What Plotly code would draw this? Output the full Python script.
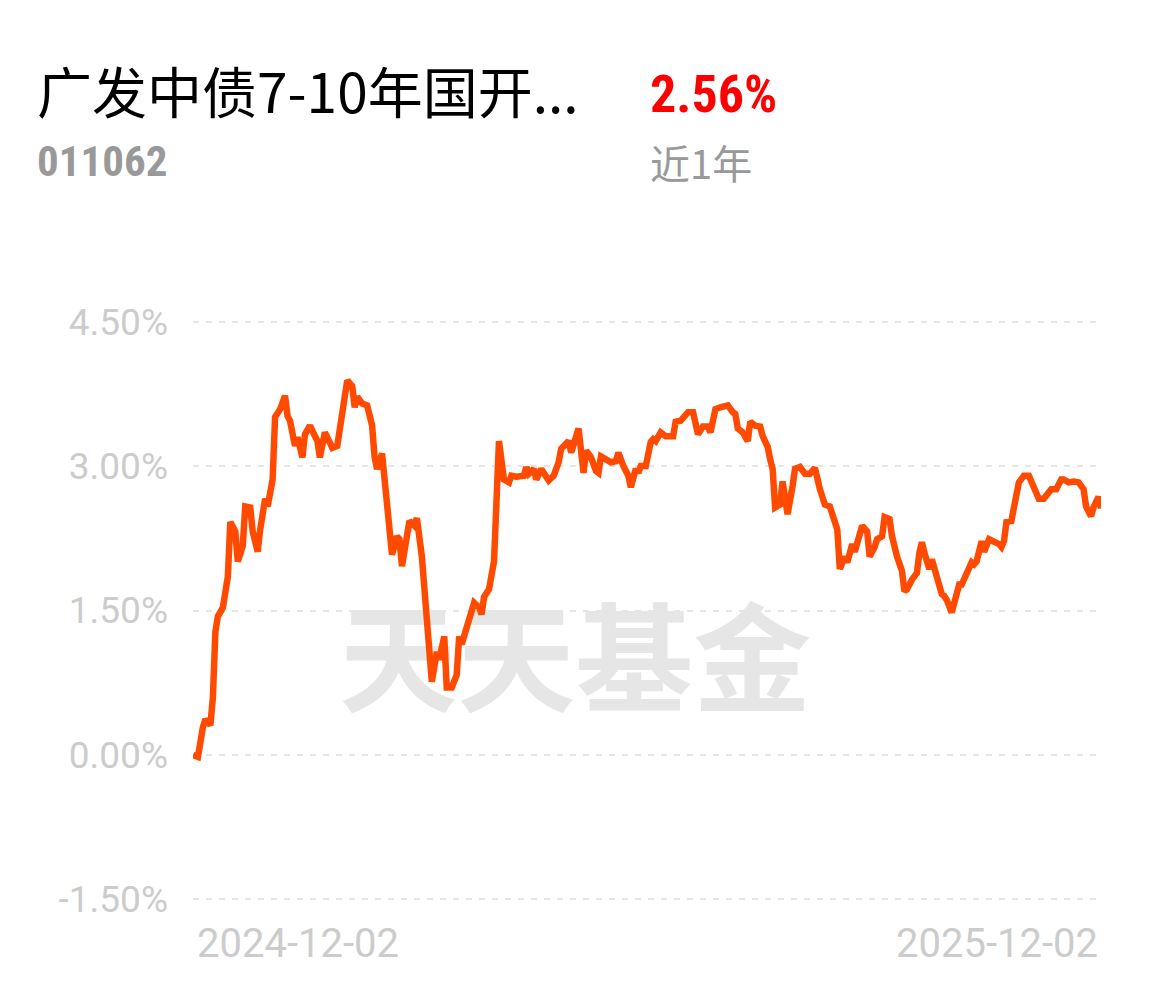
import pandas as pd
import plotly.graph_objects as go

# ---- data ----
start_date = "2024-12-02"
day_offsets = [0,2,4,5,7,8,9,10,12,14,15,17,18,20,21,23,24,26,27,29,30,32,33,35,37,38,39,41,42,44,45,47,50,51,53,54,56,58,60,62,64,65,66,68,70,72,73,74,76,77,79,80,82,83,84,86,87,89,90,92,93,94,96,98,99,101,102,104,106,107,108,110,113,115,116,117,119,121,122,123,125,127,128,130,133,134,135,137,138,140,142,143,145,147,148,150,151,152,154,155,157,158,160,162,163,164,166,168,170,171,173,175,176,178,179,180,182,184,185,186,188,190,193,194,196,198,199,201,202,203,205,207,208,210,212,215,217,218,219,221,223,224,226,228,229,231,232,233,234,236,237,239,241,242,244,246,248,250,252,254,256,258,259,260,262,263,265,266,268,269,271,272,274,275,277,278,280,281,283,285,286,287,289,291,292,293,294,296,297,299,301,302,303,305,307,308,309,311,313,314,315,317,318,320,322,324,325,326,327,329,330,332,334,336,338,340,342,344,345,347,349,350,352,354,356,358,359,361,362,364,365]
returns_pct = [0.00,-0.02,0.29,0.37,0.31,0.60,1.28,1.44,1.53,1.85,2.42,2.32,2.01,2.17,2.58,2.57,2.32,2.11,2.34,2.66,2.58,2.86,3.51,3.59,3.73,3.52,3.47,3.21,3.30,3.09,3.33,3.42,3.26,3.09,3.35,3.30,3.19,3.21,3.56,3.89,3.83,3.61,3.72,3.65,3.63,3.42,3.09,2.97,3.13,2.83,2.42,2.08,2.27,2.24,1.96,2.22,2.43,2.38,2.46,2.06,1.61,1.41,0.76,1.07,0.99,1.23,0.70,0.70,0.83,1.23,1.15,1.32,1.58,1.53,1.46,1.64,1.72,2.01,2.66,3.26,2.86,2.83,2.90,2.89,2.90,2.99,2.92,2.97,2.86,2.97,2.89,2.85,2.90,3.04,3.18,3.25,3.26,3.14,3.33,3.39,2.93,3.16,3.09,2.95,2.93,3.10,3.07,3.04,3.05,3.14,3.00,2.90,2.78,2.97,2.93,3.00,3.00,3.25,3.28,3.26,3.35,3.31,3.31,3.46,3.47,3.52,3.56,3.56,3.44,3.33,3.41,3.41,3.35,3.59,3.61,3.63,3.56,3.54,3.39,3.35,3.26,3.46,3.42,3.41,3.31,3.20,3.07,2.97,2.57,2.60,2.84,2.50,2.79,2.97,2.99,2.92,2.92,2.98,2.76,2.60,2.58,2.45,2.34,1.93,2.06,2.00,2.19,2.11,2.32,2.38,2.32,2.06,2.16,2.24,2.27,2.47,2.45,2.27,2.06,1.91,1.70,1.72,1.82,1.89,2.10,2.21,2.10,1.93,2.03,1.82,1.67,1.65,1.61,1.48,1.69,1.77,1.77,1.89,2.00,1.98,2.01,2.22,2.11,2.24,2.22,2.19,2.16,2.22,2.42,2.43,2.57,2.83,2.90,2.90,2.78,2.66,2.66,2.73,2.76,2.76,2.86,2.86,2.83,2.84,2.83,2.76,2.58,2.48,2.57,2.68,2.56]
assert len(day_offsets) == len(returns_pct), (len(day_offsets), len(returns_pct))

y_tick_vals = [-1.5, 0.0, 1.5, 3.0, 4.5]
y_tick_text = ["-1.50%", "0.00%", "1.50%", "3.00%", "4.50%"]
x_tick_text = ["2024-12-02", "2025-12-02"]

fund_name = "广发中债7-10年国开..."
fund_code = "011062"
period_return = "2.56%"
period_label = "近1年"
watermark = "天天基金"

dates = pd.to_datetime(start_date) + pd.to_timedelta(day_offsets, unit="D")

fig = go.Figure()
fig.add_trace(go.Scatter(
    x=dates, y=returns_pct, mode="lines",
    line=dict(color="#ff4a00", width=6.5),
    hoverinfo="skip", showlegend=False,
))

narrow = "Liberation Sans Narrow, Roboto Condensed, Roboto, sans-serif"
cjk = "Noto Sans CJK SC, Noto Sans, sans-serif"

annotations = [
    dict(text=fund_name, x=-0.174, y=1.374, xref="paper", yref="paper",
         xanchor="left", yanchor="middle", showarrow=False,
         font=dict(family=cjk, size=55, color="#000000")),
    dict(text="<b>" + fund_code + "</b>", x=-0.174, y=1.253, xref="paper", yref="paper",
         xanchor="left", yanchor="middle", showarrow=False,
         font=dict(family=narrow, size=43, color="#999999")),
    dict(text="<b>" + period_return + "</b>", x=0.501, y=1.3635, xref="paper", yref="paper",
         xanchor="left", yanchor="middle", showarrow=False,
         font=dict(family=narrow, size=52, color="#ff0000")),
    dict(text=period_label, x=0.501, y=1.251, xref="paper", yref="paper",
         xanchor="left", yanchor="middle", showarrow=False,
         font=dict(family=cjk, size=40, color="#999999")),
    dict(text=x_tick_text[0], x=0.002, y=-0.057, xref="paper", yref="paper",
         xanchor="left", yanchor="middle", showarrow=False,
         font=dict(family="Roboto", size=40, color="#cccccc")),
    dict(text=x_tick_text[1], x=0.999, y=-0.057, xref="paper", yref="paper",
         xanchor="right", yanchor="middle", showarrow=False,
         font=dict(family="Roboto", size=40, color="#cccccc")),
]

# the page body has an 8px default margin, so the figure is 8px smaller
fig.update_layout(
    width=1146, height=978,
    margin=dict(l=185, r=53, t=304, b=77),
    paper_bgcolor="#ffffff", plot_bgcolor="#ffffff",
    showlegend=False,
    annotations=annotations,
    shapes=[dict(
        type="rect", xref="paper", yref="paper",
        x0=0.162, x1=0.680, y0=0.308, y1=0.492,
        line=dict(width=0), fillcolor="rgba(0,0,0,0)", layer="below",
        label=dict(text=watermark, textposition="middle center",
                   font=dict(family=cjk, size=118, color="#e6e6e6", weight="bold")),
    )],
)

fig.update_xaxes(
    type="date",
    range=[dates[0], dates[-1]],
    showgrid=False, zeroline=False, showline=False,
    showticklabels=False, ticks="",
)
fig.update_yaxes(
    range=[-1.6, 4.6],
    tickvals=y_tick_vals, ticktext=y_tick_text,
    showgrid=True, gridcolor="#e6e6e6", gridwidth=2, griddash="6px,7px",
    zeroline=False, showline=False, ticks="",
    ticklabelstandoff=24,
    tickfont=dict(family="Roboto", size=37, color="#cccccc"),
)

fig.write_html("out.html")
